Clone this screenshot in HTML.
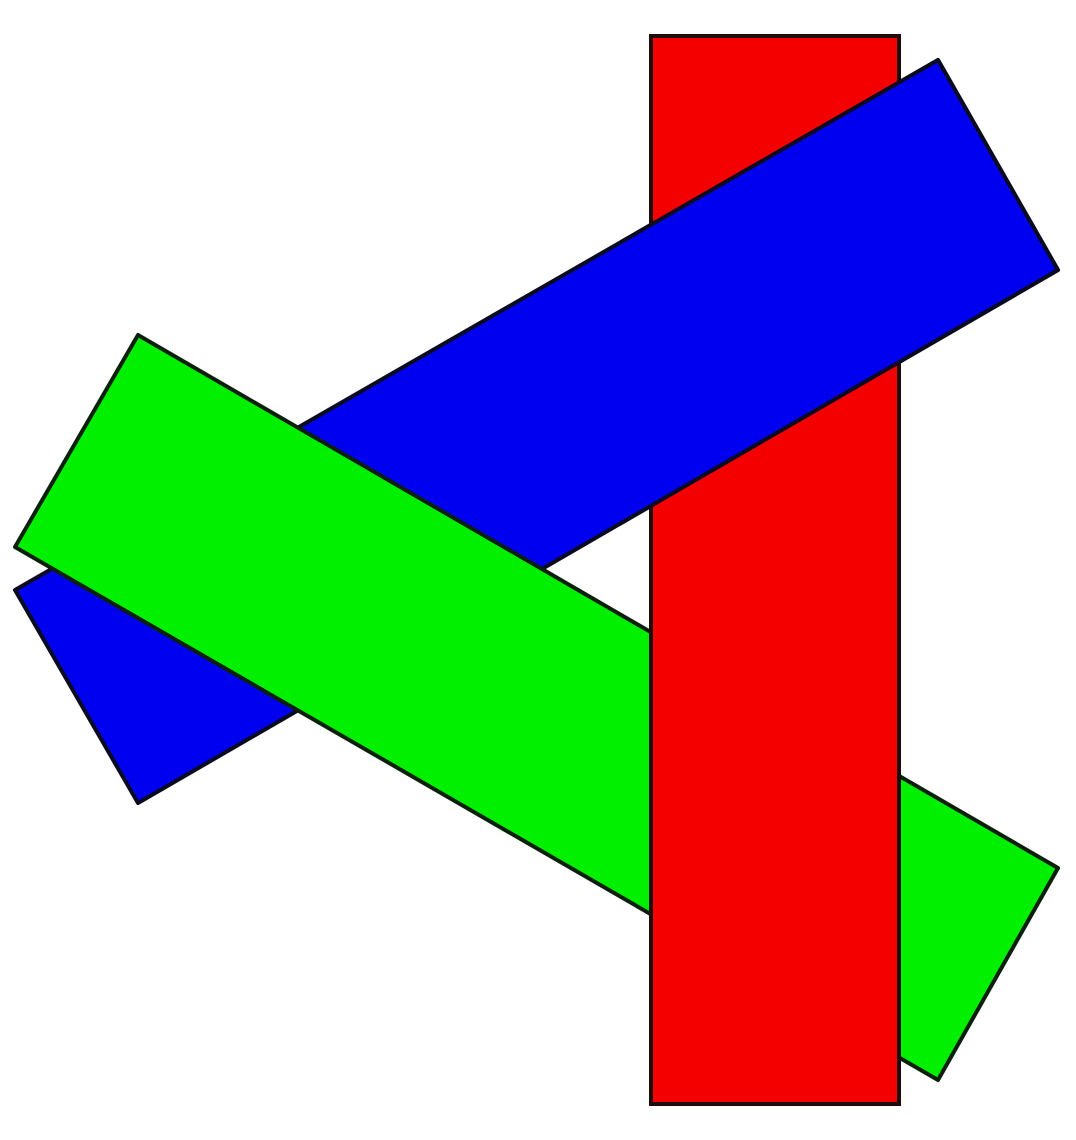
<!DOCTYPE html>
<html><head><meta charset="utf-8"><style>html,body{margin:0;padding:0;background:#fff;}svg{display:block}</style></head>
<body>
<svg width="1076" height="1140" viewBox="0 0 1076 1140">
  <defs>
    <clipPath id="rightClip"><rect x="620" y="0" width="456" height="1140"/></clipPath>
  </defs>
  <polygon points="938,60 1058,270 138,803 15,590" fill="#0000f0" stroke="#0a0a20" stroke-width="4" stroke-linejoin="round"/>
  <polygon points="138,335 15,547 938,1080 1058,868" fill="#00f000" stroke="#0a200a" stroke-width="4" stroke-linejoin="round"/>
  <rect x="651" y="36" width="248" height="1068" fill="#f40000" stroke="#200a0a" stroke-width="4"/>
  <polygon clip-path="url(#rightClip)" points="938,60 1058,270 138,803 15,590" fill="#0000f0" stroke="#0a0a20" stroke-width="4" stroke-linejoin="round"/>
</svg>
</body></html>
